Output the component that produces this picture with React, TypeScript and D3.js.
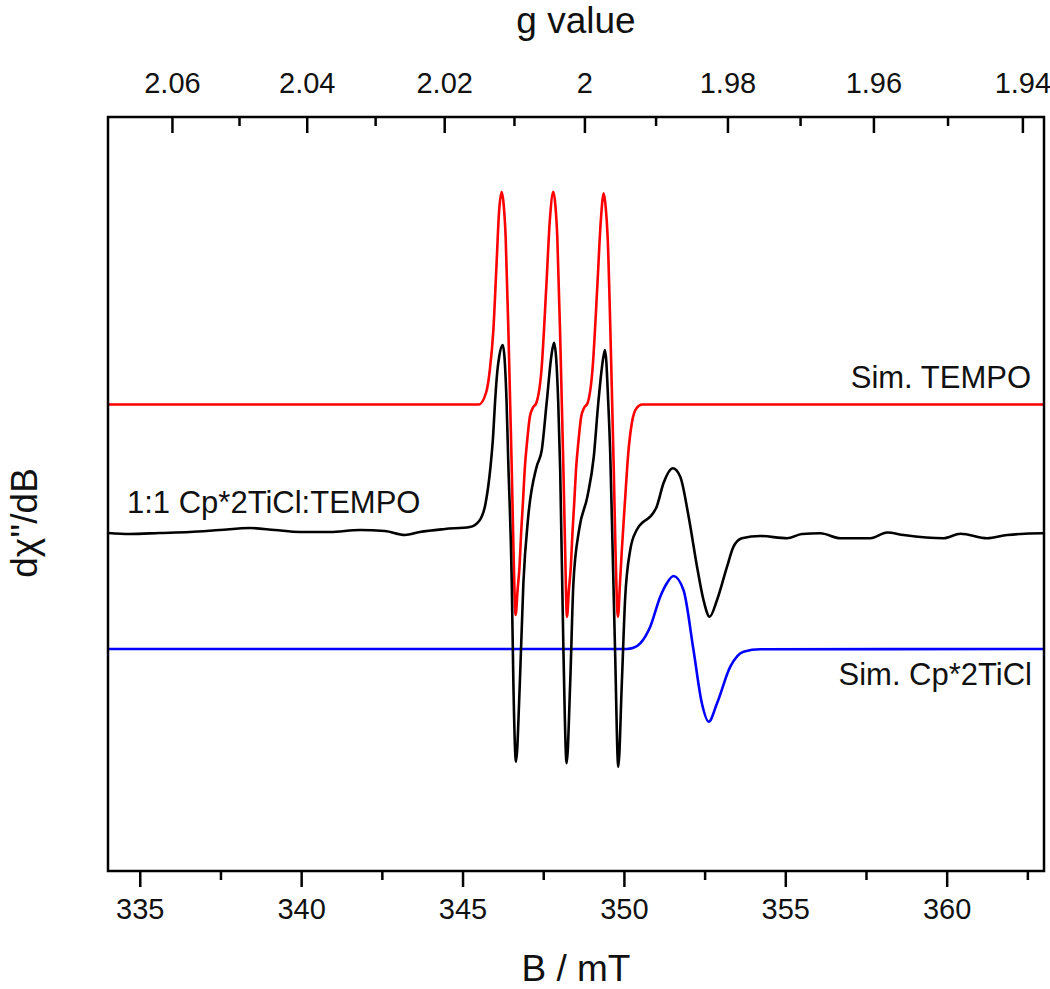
import React from "react";
import * as d3 from "d3";

const WIDTH = 1050;
const HEIGHT = 989;
const M = { left: 108, right: 1044, top: 117, bottom: 871 };

// magnetic field (mT) axis
const bDomain = [334, 363];
const bTicks = [335, 340, 345, 350, 355, 360];
const bMinor = [337.5, 342.5, 347.5, 352.5, 357.5, 362.5];

// g value axis (top), runs linear in 1/g
const gDomain = [2.0697, 1.9372];
const gTicks = [2.06, 2.04, 2.02, 2, 1.98, 1.96, 1.94];
const gMinor = [2.05, 2.03, 2.01, 1.99, 1.97, 1.95];

const yDomain = [-33.6, 41.8];

// Sim. TEMPO  [B (mT), dχ''/dB (a.u., offset)]
const tempoSim: [number, number][] = [
  [334.0, 13.05], [345.49, 13.05], [345.72, 14.3], [345.83, 16.5], [345.94, 20.5],
  [346.03, 26.5], [346.12, 32.5], [346.2, 34.33], [346.26, 33.0], [346.32, 29.83],
  [346.41, 19.83], [346.46, 13.2], [346.51, 6.5], [346.56, -1.0], [346.63, -8.0],
  [346.69, -5.5], [346.75, -3.17], [346.8, 0.2], [346.86, 3.5], [346.91, 6.5],
  [346.99, 9.5], [347.07, 11.83], [347.16, 12.7], [347.27, 13.2], [347.43, 16.5],
  [347.58, 24.83], [347.69, 31.5], [347.8, 34.33], [347.86, 33.0], [347.92, 29.83],
  [348.01, 19.83], [348.06, 13.2], [348.11, 6.5], [348.16, -1.0], [348.22, -8.17],
  [348.28, -5.5], [348.34, -3.17], [348.39, 0.2], [348.45, 3.5], [348.5, 6.5],
  [348.58, 9.5], [348.66, 11.83], [348.75, 12.7], [348.86, 13.2], [349.01, 16.5],
  [349.16, 24.83], [349.27, 31.5], [349.36, 34.17], [349.42, 32.8], [349.48, 29.83],
  [349.57, 19.83], [349.62, 13.2], [349.67, 6.5], [349.72, -1.0], [349.8, -8.17],
  [349.86, -5.0], [349.92, -1.5], [350.02, 3.5], [350.12, 8.2], [350.23, 11.2],
  [350.38, 12.7], [350.55, 13.05], [363.0, 13.05],
];

// experiment 1:1 Cp*2TiCl:TEMPO
const experiment: [number, number][] = [
  [333.99, 0.2], [334.67, 0.1], [335.6, 0.2], [336.53, 0.3], [337.46, 0.5],
  [338.39, 0.7], [339.17, 0.5], [339.94, 0.3], [340.87, 0.3], [341.8, 0.5],
  [342.58, 0.4], [343.2, 0.0], [343.66, 0.3], [344.44, 0.6], [345.21, 0.8],
  [345.5, 1.4], [345.7, 3.2], [345.85, 6.8], [345.93, 9.8], [345.99, 13.2],
  [346.06, 16.3], [346.12, 17.83], [346.23, 19.0], [346.35, 13.2], [346.4, 7.5],
  [346.51, -4.8], [346.56, -14.8], [346.64, -22.67], [346.76, -14.8], [346.87, -4.8],
  [347.02, 1.83], [347.28, 6.83], [347.44, 8.5], [347.59, 13.2], [347.75, 18.2],
  [347.82, 19.23], [347.95, 13.2], [348.01, 6.5], [348.11, -11.5], [348.21, -22.83],
  [348.32, -14.8], [348.42, -4.8], [348.6, 0.6], [348.85, 3.8], [349.05, 7.8],
  [349.19, 13.2], [349.35, 17.83], [349.4, 18.5], [349.5, 13.2], [349.56, 8.2],
  [349.61, 1.83], [349.71, -11.5], [349.81, -23.17], [349.92, -14.8], [350.02, -6.5],
  [350.18, -1.5], [350.38, 0.5], [350.59, 1.33], [350.8, 1.83], [351.0, 2.83],
  [351.21, 5.17], [351.5, 6.67], [351.73, 5.83], [351.99, 1.83], [352.25, -3.17],
  [352.45, -6.5], [352.64, -8.17], [352.87, -6.5], [353.18, -3.17], [353.38, -1.17],
  [353.64, -0.33], [354.21, -0.1], [355.04, -0.33], [355.5, 0.1], [356.07, 0.17],
  [356.69, -0.33], [357.62, -0.33], [358.14, 0.25], [358.65, 0.0], [359.89, -0.33],
  [360.41, 0.12], [361.24, -0.33], [361.86, 0.0], [362.95, 0.17], [363.0, 0.15],
];

// Sim. Cp*2TiCl
const tiSim: [number, number][] = [
  [333.99, -11.4], [350.07, -11.4], [350.28, -11.28], [350.49, -10.83], [350.8, -9.17],
  [351.11, -6.17], [351.32, -4.8], [351.52, -4.1], [351.83, -5.5], [352.14, -11.5],
  [352.4, -16.83], [352.61, -18.67], [352.87, -16.83], [353.28, -13.17], [353.69, -11.67],
  [354.21, -11.43], [363.0, -11.4],
];

const FONT = "'Liberation Sans', Arial, sans-serif";

export default function App() {
  const x = d3.scaleLinear().domain(bDomain).range([M.left, M.right]);
  const gInv = d3
    .scaleLinear()
    .domain([1 / gDomain[0], 1 / gDomain[1]])
    .range([M.left, M.right]);
  const gx = (g: number) => gInv(1 / g);
  const y = d3.scaleLinear().domain(yDomain).range([M.bottom, M.top]);

  const line = d3
    .line<[number, number]>()
    .x((d) => x(d[0]))
    .y((d) => y(d[1]))
    .curve(d3.curveMonotoneX);

  const cx = (M.left + M.right) / 2;

  return (
    <svg
      width={WIDTH}
      height={HEIGHT}
      style={{ position: "absolute", left: 0, top: 0, background: "#fff" }}
      fontFamily={FONT}
    >
      <defs>
        <clipPath id="plot">
          <rect x={M.left} y={M.top} width={M.right - M.left} height={M.bottom - M.top} />
        </clipPath>
      </defs>

      <g clipPath="url(#plot)" fill="none" strokeWidth={2.6} strokeLinejoin="round">
        <path d={line(tempoSim) || ""} stroke="#ff0000" />
        <path d={line(tiSim) || ""} stroke="#0000ff" />
        <path d={line(experiment) || ""} stroke="#000" />
      </g>

      <rect
        x={M.left}
        y={M.top}
        width={M.right - M.left}
        height={M.bottom - M.top}
        fill="none"
        stroke="#000"
        strokeWidth={2.5}
      />

      {/* bottom axis */}
      <g stroke="#000" strokeWidth={2.5}>
        {bTicks.map((t) => (
          <line key={t} x1={x(t)} x2={x(t)} y1={M.bottom} y2={M.bottom + 16} />
        ))}
        {bMinor.map((t) => (
          <line key={t} x1={x(t)} x2={x(t)} y1={M.bottom} y2={M.bottom + 9} />
        ))}
      </g>
      <g fontSize={29} textAnchor="middle" fill="#111">
        {bTicks.map((t) => (
          <text key={t} x={x(t)} y={919}>
            {t}
          </text>
        ))}
      </g>

      {/* top axis: g value */}
      <g stroke="#000" strokeWidth={2.5}>
        {gTicks.map((t) => (
          <line key={t} x1={gx(t)} x2={gx(t)} y1={M.top} y2={M.top + 16} />
        ))}
        {gMinor.map((t) => (
          <line key={t} x1={gx(t)} x2={gx(t)} y1={M.top} y2={M.top + 9} />
        ))}
      </g>
      <g fontSize={29} textAnchor="middle" fill="#111">
        {gTicks.map((t) => (
          <text key={t} x={gx(t)} y={93}>
            {String(t)}
          </text>
        ))}
      </g>

      {/* axis titles */}
      <text x={cx} y={33} fontSize={37} textAnchor="middle" fill="#111">
        g value
      </text>
      <text x={cx} y={981} fontSize={37} textAnchor="middle" fill="#111">
        B / mT
      </text>
      <text
        transform="translate(37,523) rotate(-90)"
        fontSize={37}
        textAnchor="middle"
        fill="#111"
      >
        dχ''/dB
      </text>

      {/* series labels */}
      <g fontSize={31} fill="#111">
        <text x={1031} y={388} textAnchor="end">
          Sim. TEMPO
        </text>
        <text x={127} y={513}>
          1:1 Cp*2TiCl:TEMPO
        </text>
        <text x={1032} y={685} textAnchor="end">
          Sim. Cp*2TiCl
        </text>
      </g>
    </svg>
  );
}
